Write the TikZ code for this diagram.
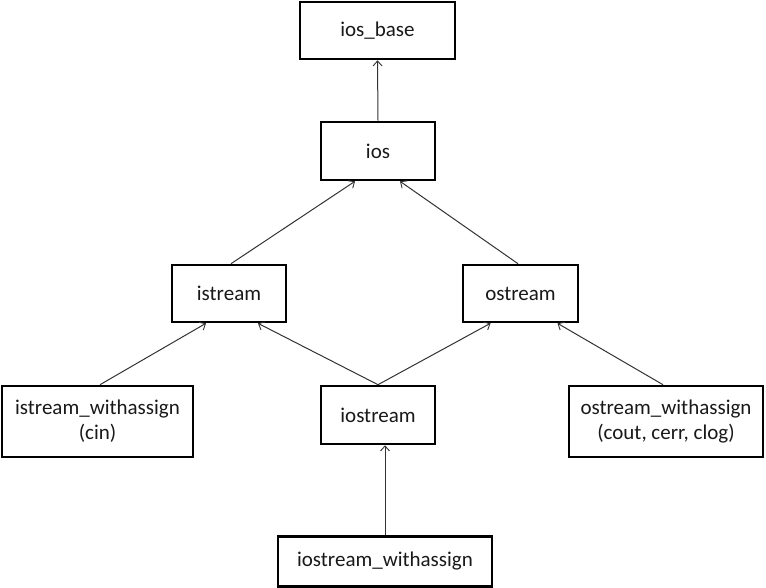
\documentclass[tikz,border=0pt]{standalone}
\usepackage{fontspec}
\setmainfont{Carlito}
\usetikzlibrary{arrows.meta}
\begin{document}
\begin{tikzpicture}[x=1pt,y=-1pt,
  cls/.style={draw=black, line width=2.6pt, fill=white, inner sep=0pt,
    minimum width=#1, align=center, font=\fontsize{21}{25}\selectfont, text=black!90},
  link/.style={draw=black!80, line width=1pt,
    -{Straight Barb[length=5pt,width=9pt,line width=0.9pt]}},
]
\useasboundingbox (0,0) rectangle (766,587);
\node[cls=155pt, minimum height=57pt] (iosbase) at (377.5,30.5) {ios\_base};
\node[cls=114pt, minimum height=58pt] (ios) at (378,151) {ios};
\node[cls=114pt, minimum height=57pt] (istream) at (229,293.5) {istream};
\node[cls=115pt, minimum height=57pt] (ostream) at (520.5,293.5) {ostream};
\node[cls=191pt, minimum height=71pt] (iwa) at (97.5,421.5) {istream\_withassign\\(cin)};
\node[cls=114pt, minimum height=58pt] (iostream) at (378,415) {iostream};
\node[cls=194pt, minimum height=71pt] (owa) at (666,421.5) {ostream\_withassign\\(cout, cerr, clog)};
\node[cls=214pt, minimum height=50pt] (iowa) at (385,561.5) {iostream\_withassign};

\draw[link] (ios.north) -- (iosbase.south);
\draw[link] ([xshift=2pt]istream.north) -- ([xshift=-23pt]ios.south);
\draw[link] ([xshift=-2.5pt]ostream.north) -- ([xshift=22pt]ios.south);
\draw[link] ([xshift=2.5pt]iwa.north) -- ([xshift=-23pt]istream.south);
\draw[link] (iostream.north) -- ([xshift=29pt]istream.south);
\draw[link] (iostream.north) -- ([xshift=-30pt]ostream.south);
\draw[link] ([xshift=-3pt]owa.north) -- ([xshift=37pt]ostream.south);
\draw[link] (iowa.north) -- (iostream.south -| iowa.north);
\end{tikzpicture}
\end{document}
